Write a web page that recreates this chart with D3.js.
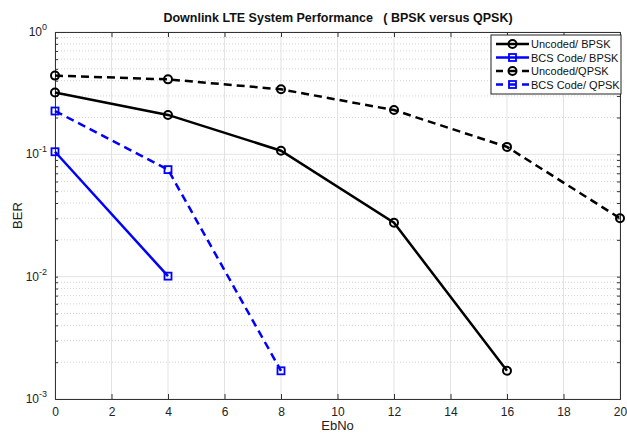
<!DOCTYPE html>
<html lang="en">
<head>
<meta charset="UTF-8">
<title>Downlink LTE System Performance</title>
<script src="https://d3js.org/d3.v7.min.js"></script>
<style>
    body { margin: 0; background: #fff; }
    text { font-family: Arial, "Liberation Sans", sans-serif; }
</style>
</head>
<body>
<div id="chart"></div>
<script>
    // ---------------- data ----------------
    var ebno = [0, 4, 8, 12, 16, 20];
    var uncodedBPSK = [0.32, 0.21, 0.107, 0.0276, 0.0017];
    var bcsBPSK = [0.105, 0.0101];
    var uncodedQPSK = [0.44, 0.41, 0.34, 0.23, 0.115, 0.030];
    var bcsQPSK = [0.226, 0.075, 0.0017];
    var seriesNames = ["Uncoded/ BPSK", "BCS Code/ BPSK", "Uncoded/QPSK", "BCS Code/ QPSK"];
    var xTicks = [0, 2, 4, 6, 8, 10, 12, 14, 16, 18, 20];
    var yDecades = [0, -1, -2, -3];

    var W = 627, H = 434;
    var m = {left: 55, right: 7, top: 32, bottom: 35};

    var svg = d3.select("#chart").append("svg").attr("width", W).attr("height", H);

    var x = d3.scaleLinear().domain([0, 20]).range([m.left, W - m.right]);
    var y = d3.scaleLog().domain([1e-3, 1]).range([H - m.bottom, m.top]);

    // grid mineure (pointillés)
    var minors = [];
    [1e-3, 1e-2, 1e-1].forEach(function(d) {
        for (var k = 2; k <= 9; k++) minors.push(d * k);
    });
    svg.append("g").selectAll("line").data(minors).join("line")
        .attr("x1", x(0)).attr("x2", x(20))
        .attr("y1", d => y(d)).attr("y2", d => y(d))
        .attr("stroke", "#c8c8c8").attr("stroke-width", 0.8).attr("stroke-dasharray", "1,2");

    // grid majeure
    svg.append("g").selectAll("line").data(xTicks).join("line")
        .attr("x1", d => x(d)).attr("x2", d => x(d))
        .attr("y1", y(1)).attr("y2", y(1e-3))
        .attr("stroke", "#dcdcdc").attr("stroke-width", 0.8);
    svg.append("g").selectAll("line").data(yDecades).join("line")
        .attr("x1", x(0)).attr("x2", x(20))
        .attr("y1", d => y(Math.pow(10, d))).attr("y2", d => y(Math.pow(10, d)))
        .attr("stroke", "#dcdcdc").attr("stroke-width", 0.8);

    // axes
    var xAxis = d3.axisBottom(x).tickValues(xTicks).tickSize(-5).tickFormat(d3.format("d"));
    var gx = svg.append("g").attr("transform", "translate(0," + y(1e-3) + ")").call(xAxis);
    gx.selectAll("text").attr("dy", "1.2em").attr("font-size", 12).attr("fill", "#222");
    svg.append("g").attr("transform", "translate(0," + y(1) + ")")
        .call(d3.axisTop(x).tickValues(xTicks).tickSize(-5).tickFormat(""));

    var yAxis = d3.axisLeft(y).tickValues(minors.concat(yDecades.map(d => Math.pow(10, d))))
        .tickSize(-3).tickFormat("");
    svg.append("g").attr("transform", "translate(" + x(0) + ",0)").call(yAxis);
    svg.append("g").attr("transform", "translate(" + x(20) + ",0)")
        .call(d3.axisRight(y).tickValues(minors.concat(yDecades.map(d => Math.pow(10, d))))
        .tickSize(-3).tickFormat(""));
    svg.selectAll(".domain").attr("stroke", "#333").attr("stroke-width", 1);
    svg.selectAll(".tick line").attr("stroke", "#333");

    // labels 10^n
    var yl = svg.append("g").selectAll("text").data(yDecades).join("text")
        .attr("x", x(0) - 8).attr("y", d => y(Math.pow(10, d)) + 4)
        .attr("text-anchor", "end").attr("font-size", 12).attr("fill", "#222");
    yl.append("tspan").text("10");
    yl.append("tspan").attr("dy", -6).attr("font-size", 9).text(d => d);

    // titres
    svg.append("text").attr("x", 338).attr("y", 22).attr("text-anchor", "middle")
        .attr("font-size", 12.5).attr("font-weight", "bold").attr("fill", "#111")
        .attr("xml:space", "preserve")
        .text("Downlink LTE System Performance   ( BPSK versus QPSK)");
    svg.append("text").attr("x", x(10)).attr("y", 430).attr("text-anchor", "middle")
        .attr("font-size", 13).attr("fill", "#222").text("EbNo");
    svg.append("text").attr("transform", "translate(22," + y(0.0316) + ") rotate(-90)")
        .attr("text-anchor", "middle").attr("font-size", 13).attr("fill", "#222").text("BER");

    // séries
    var series = [
        {name: seriesNames[0], vals: uncodedBPSK, color: "#000", dash: null, mark: "circle"},
        {name: seriesNames[1], vals: bcsBPSK, color: "#0000ff", dash: null, mark: "square"},
        {name: seriesNames[2], vals: uncodedQPSK, color: "#000", dash: "8,5", mark: "circle"},
        {name: seriesNames[3], vals: bcsQPSK, color: "#0000ff", dash: "8,5", mark: "square"}
    ];

    var line = d3.line().x(d => x(d[0])).y(d => y(d[1]));

    function drawMarker(g, mark, color, cx, cy) {
        if (mark == "circle") {
            g.append("circle").attr("cx", cx).attr("cy", cy).attr("r", 4)
                .attr("fill", "none").attr("stroke", color).attr("stroke-width", 2);
        } else {
            g.append("rect").attr("x", cx - 3.5).attr("y", cy - 3.5).attr("width", 7).attr("height", 7)
                .attr("fill", "none").attr("stroke", color).attr("stroke-width", 1.8);
        }
    }

    series.forEach(function(s) {
        var pts = s.vals.map((v, i) => [ebno[i], v]);
        var g = svg.append("g");
        g.append("path").attr("d", line(pts)).attr("fill", "none")
            .attr("stroke", s.color).attr("stroke-width", 2.5)
            .attr("stroke-dasharray", s.dash);
        pts.forEach(p => drawMarker(g, s.mark, s.color, x(p[0]), y(p[1])));
    });

    // légende
    var lg = svg.append("g").attr("transform", "translate(491,35)");
    lg.append("rect").attr("width", 130).attr("height", 59)
        .attr("fill", "#fff").attr("stroke", "#222").attr("stroke-width", 1);
    series.forEach(function(s, i) {
        var ly = 9 + i * 13.5;
        lg.append("line").attr("x1", 5).attr("x2", 38).attr("y1", ly).attr("y2", ly)
            .attr("stroke", s.color).attr("stroke-width", 2.5)
            .attr("stroke-dasharray", s.dash ? "7,6" : null);
        drawMarker(lg, s.mark, s.color, 21.5, ly);
        lg.append("text").attr("x", 40).attr("y", ly + 4).attr("font-size", 11)
            .attr("fill", "#111").text(s.name);
    });
</script>
</body>
</html>
